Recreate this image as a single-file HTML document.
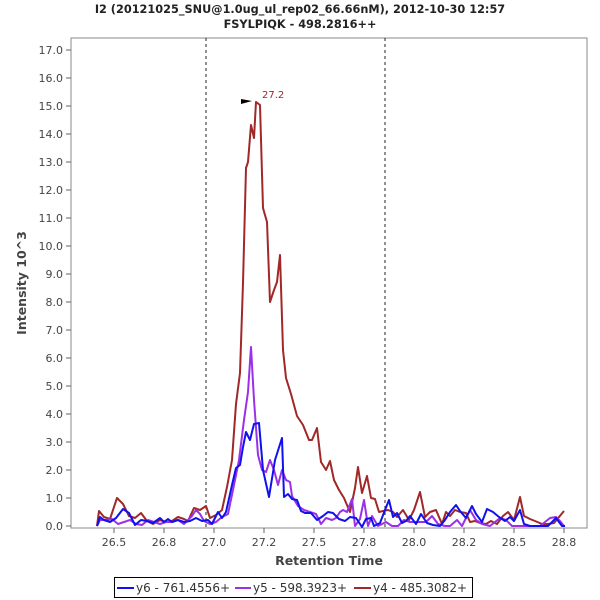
<!DOCTYPE html>
<html><head><meta charset="utf-8"><style>body{margin:0;background:#fff}svg{display:block}</style></head><body>
<svg width="600" height="600" xmlns="http://www.w3.org/2000/svg" font-family="DejaVu Sans, Liberation Sans, sans-serif">
<rect width="600" height="600" fill="#fff"/>
<text x="300" y="13" text-anchor="middle" font-size="11.3" font-weight="bold" fill="#222">I2 (20121025_SNU@1.0ug_ul_rep02_66.66nM), 2012-10-30 12:57</text>
<text x="300" y="28" text-anchor="middle" font-size="11.3" font-weight="bold" fill="#222">FSYLPIQK - 498.2816++</text>
<rect x="71" y="38" width="516" height="490" fill="#fff" stroke="#888" stroke-width="1"/>
<g stroke="#666" stroke-width="1">
<line x1="66" y1="526" x2="71" y2="526"/><line x1="66" y1="498" x2="71" y2="498"/><line x1="66" y1="470" x2="71" y2="470"/><line x1="66" y1="442" x2="71" y2="442"/><line x1="66" y1="414" x2="71" y2="414"/><line x1="66" y1="386" x2="71" y2="386"/><line x1="66" y1="358" x2="71" y2="358"/><line x1="66" y1="330" x2="71" y2="330"/><line x1="66" y1="302" x2="71" y2="302"/><line x1="66" y1="274" x2="71" y2="274"/><line x1="66" y1="246" x2="71" y2="246"/><line x1="66" y1="218" x2="71" y2="218"/><line x1="66" y1="190" x2="71" y2="190"/><line x1="66" y1="162" x2="71" y2="162"/><line x1="66" y1="134" x2="71" y2="134"/><line x1="66" y1="106" x2="71" y2="106"/><line x1="66" y1="78" x2="71" y2="78"/><line x1="66" y1="50" x2="71" y2="50"/>
<line x1="114" y1="528" x2="114" y2="533"/><line x1="164" y1="528" x2="164" y2="533"/><line x1="214" y1="528" x2="214" y2="533"/><line x1="264" y1="528" x2="264" y2="533"/><line x1="314" y1="528" x2="314" y2="533"/><line x1="364" y1="528" x2="364" y2="533"/><line x1="414" y1="528" x2="414" y2="533"/><line x1="464" y1="528" x2="464" y2="533"/><line x1="514" y1="528" x2="514" y2="533"/><line x1="564" y1="528" x2="564" y2="533"/>
</g>
<g font-size="11" fill="#444" text-anchor="end">
<text x="63" y="530">0.0</text><text x="63" y="502">1.0</text><text x="63" y="474">2.0</text><text x="63" y="446">3.0</text><text x="63" y="418">4.0</text><text x="63" y="390">5.0</text><text x="63" y="362">6.0</text><text x="63" y="334">7.0</text><text x="63" y="306">8.0</text><text x="63" y="278">9.0</text><text x="63" y="250">10.0</text><text x="63" y="222">11.0</text><text x="63" y="194">12.0</text><text x="63" y="166">13.0</text><text x="63" y="138">14.0</text><text x="63" y="110">15.0</text><text x="63" y="82">16.0</text><text x="63" y="54">17.0</text>
</g>
<g font-size="11" fill="#444" text-anchor="middle">
<text x="114" y="546">26.5</text><text x="164" y="546">26.8</text><text x="214" y="546">27.0</text><text x="264" y="546">27.2</text><text x="314" y="546">27.5</text><text x="364" y="546">27.8</text><text x="414" y="546">28.0</text><text x="464" y="546">28.2</text><text x="514" y="546">28.5</text><text x="564" y="546">28.8</text>
</g>
<text x="329" y="565" text-anchor="middle" font-size="12.5" font-weight="bold" fill="#444">Retention Time</text>
<text transform="translate(26,283) rotate(-90)" text-anchor="middle" font-size="12.5" font-weight="bold" fill="#444">Intensity 10^3</text>
<line x1="206" y1="38" x2="206" y2="528" stroke="#222" stroke-dasharray="3,3"/>
<line x1="385" y1="38" x2="385" y2="528" stroke="#222" stroke-dasharray="3,3"/>
<g fill="none" stroke-width="2" stroke-linejoin="round">
<polyline stroke="#a02828" points="97,526 99,511 104,517 110,519 117,498 123,504 129,516 135,518 141,513 147,521 153,524 160,520 166,522 172,521 178,517 184,519 188,521 194,508 200,510 206,506 210,518 216,515 222,510 227,487 232,460 236,404 240,373 243,283 246,168 248,162 251,125 254,138 256,102 260,105 263,208 267,222 270,302 274,290 277,282 280,255 283,350 286,378 291,394 297,416 303,425 309,440 312,440 317,428 321,462 326,470 330,461 334,480 339,490 344,498 350,512 355,488 358,467 362,493 367,476 371,498 375,499 379,512 383,511 388,510 393,512 397,517 403,510 409,520 414,510 420,492 425,517 430,512 436,510 442,524 446,512 450,516 455,510 460,512 466,513 470,522 475,521 480,523 486,524 491,521 497,524 503,516 508,512 514,520 520,497 524,516 530,519 535,521 542,524 548,524 554,523 559,517 564,511"/>
<polyline stroke="#9a30e8" points="97,526 100,520 106,520 112,519 118,524 124,522 130,520 136,524 142,525 148,520 154,522 160,524 166,522 172,522 178,520 184,524 192,516 196,510 200,514 204,521 210,524 216,522 222,517 228,514 234,485 239,460 244,420 248,392 251,347 254,400 258,455 262,470 266,472 270,460 274,470 278,485 282,470 286,480 290,482 292,496 298,506 304,510 310,512 316,514 321,524 326,518 332,520 336,518 340,512 343,510 347,512 352,499 355,526 360,519 364,500 368,526 372,516 378,526 386,522 392,526 398,526 404,520 410,522 418,522 426,522 432,516 438,524 445,526 450,526 457,520 462,526 470,510 476,520 482,524 490,526 500,518 506,520 512,526 520,526 530,526 540,526 550,518 556,517 560,521 564,526"/>
<polyline stroke="#1010f0" points="97,526 100,517 104,520 110,522 116,518 123,509 129,513 135,525 141,520 147,521 153,523 160,518 164,522 168,519 172,522 178,520 184,522 190,521 196,518 202,521 208,520 212,524 218,512 222,518 226,512 232,485 236,468 240,465 243,447 246,432 250,440 254,424 259,423 263,470 269,497 275,460 282,438 284,497 288,494 292,499 297,500 301,511 305,513 311,513 317,520 323,516 328,512 333,513 339,519 345,521 350,517 356,518 362,527 366,519 371,518 374,526 380,523 385,510 389,500 393,517 397,513 402,523 406,521 410,516 416,524 421,514 427,523 433,525 440,526 445,520 450,512 456,505 460,511 466,518 472,506 476,514 482,522 487,509 493,512 499,517 505,521 510,517 514,521 520,510 524,524 530,526 540,526 548,526 556,518 562,526 565,526"/>
</g>
<polygon points="241,99 252,101 241,104" fill="#000"/>
<text x="262" y="98" font-size="10" fill="#a02828">27.2</text>
<rect x="114.5" y="577.5" width="358" height="20" fill="#fff" stroke="#000"/>
<g font-size="12" fill="#333">
<line x1="117" y1="588" x2="134" y2="588" stroke="#1010f0" stroke-width="2"/><text x="136" y="592">y6 - 761.4556+</text>
<line x1="235" y1="588" x2="251" y2="588" stroke="#9a30e8" stroke-width="2"/><text x="253" y="592">y5 - 598.3923+</text>
<line x1="354" y1="588" x2="371" y2="588" stroke="#a02828" stroke-width="2"/><text x="373" y="592">y4 - 485.3082+</text>
</g>
</svg>
</body></html>
